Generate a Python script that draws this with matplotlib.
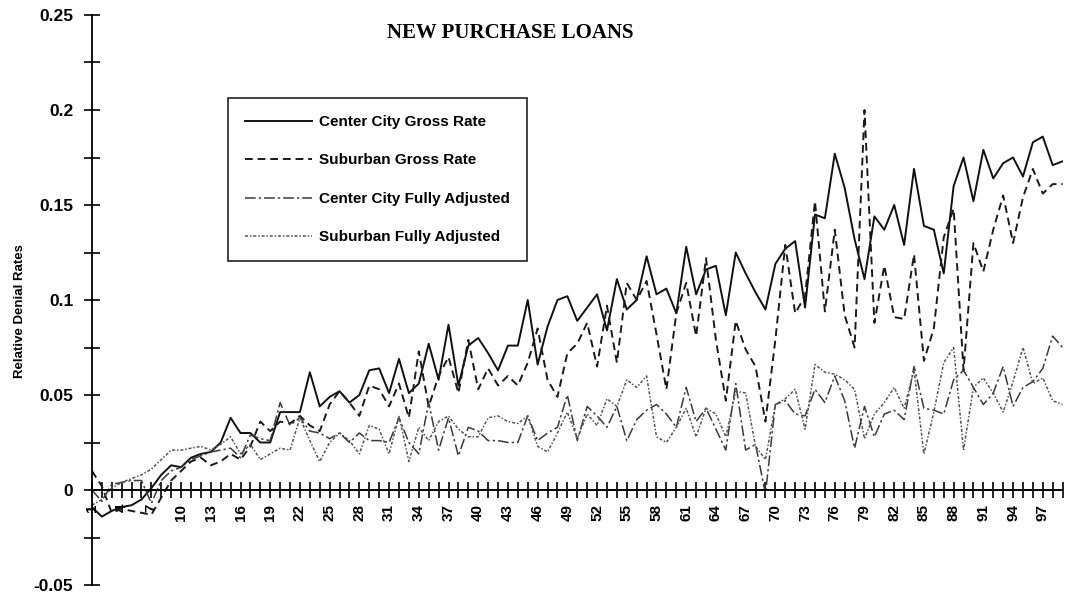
import matplotlib
matplotlib.use("Agg")
import matplotlib.pyplot as plt
from matplotlib.ticker import MultipleLocator

# observation index 1..99
obs = list(range(1, 100))

center_gross = [
    -0.009, -0.014, -0.011, -0.009, -0.008, -0.005, 0.001, 0.008, 0.013, 0.012,
    0.017, 0.019, 0.020, 0.025, 0.038, 0.030, 0.030, 0.025, 0.025, 0.041,
    0.041, 0.041, 0.062, 0.044, 0.049, 0.052, 0.046, 0.050, 0.063, 0.064,
    0.051, 0.069, 0.051, 0.056, 0.077, 0.058, 0.087, 0.055, 0.076, 0.080,
    0.072, 0.063, 0.076, 0.076, 0.100, 0.066, 0.086, 0.100, 0.102, 0.089,
    0.096, 0.103, 0.084, 0.111, 0.095, 0.100, 0.123, 0.103, 0.106, 0.093,
    0.128, 0.103, 0.116, 0.118, 0.092, 0.125, 0.114, 0.104, 0.095, 0.119,
    0.127, 0.131, 0.096, 0.145, 0.143, 0.177, 0.159, 0.132, 0.111, 0.144,
    0.137, 0.150, 0.129, 0.169, 0.139, 0.137, 0.114, 0.160, 0.175, 0.152,
    0.179, 0.164, 0.172, 0.175, 0.165, 0.183, 0.186, 0.171, 0.173,
]

suburban_gross = [
    0.010, 0.002, -0.012, -0.010, -0.011, -0.012, -0.013, -0.004, 0.005, 0.010,
    0.015, 0.017, 0.013, 0.015, 0.019, 0.016, 0.023, 0.036, 0.031, 0.036,
    0.035, 0.039, 0.034, 0.031, 0.045, 0.052, 0.046, 0.039, 0.055, 0.053,
    0.044, 0.056, 0.038, 0.073, 0.044, 0.060, 0.070, 0.051, 0.079, 0.053,
    0.064, 0.055, 0.060, 0.055, 0.067, 0.085, 0.058, 0.049, 0.072, 0.077,
    0.088, 0.065, 0.097, 0.067, 0.109, 0.100, 0.110, 0.082, 0.053, 0.093,
    0.109, 0.081, 0.122, 0.079, 0.047, 0.089, 0.074, 0.065, 0.036, 0.079,
    0.129, 0.093, 0.102, 0.152, 0.094, 0.137, 0.092, 0.075, 0.200, 0.088,
    0.118, 0.091, 0.090, 0.124, 0.068, 0.085, 0.133, 0.148, 0.063, 0.130,
    0.115, 0.137, 0.155, 0.130, 0.154, 0.169, 0.156, 0.161, 0.161,
]

center_adj = [
    0.000, -0.006, 0.003, 0.004, 0.005, 0.005, -0.007, 0.005, 0.010, 0.012,
    0.016, 0.018, 0.020, 0.021, 0.022, 0.017, 0.029, 0.027, 0.026, 0.046,
    0.034, 0.038, 0.031, 0.030, 0.027, 0.030, 0.025, 0.030, 0.026, 0.026,
    0.025, 0.038, 0.025, 0.019, 0.046, 0.021, 0.038, 0.018, 0.033, 0.031,
    0.026, 0.026, 0.025, 0.025, 0.039, 0.026, 0.030, 0.033, 0.050, 0.026,
    0.044, 0.039, 0.033, 0.044, 0.026, 0.037, 0.042, 0.045, 0.040, 0.033,
    0.054, 0.036, 0.043, 0.032, 0.021, 0.056, 0.021, 0.024, -0.002, 0.045,
    0.047, 0.040, 0.039, 0.053, 0.046, 0.060, 0.047, 0.022, 0.044, 0.028,
    0.040, 0.042, 0.037, 0.065, 0.043, 0.042, 0.040, 0.058, 0.063, 0.054,
    0.045, 0.051, 0.065, 0.044, 0.054, 0.057, 0.064, 0.081, 0.075,
]

suburban_adj = [
    -0.008, -0.005, 0.001, 0.004, 0.006, 0.008, 0.011, 0.016, 0.021, 0.021,
    0.022, 0.023, 0.021, 0.024, 0.028, 0.019, 0.024, 0.016, 0.019, 0.022,
    0.021, 0.038, 0.026, 0.015, 0.025, 0.030, 0.026, 0.019, 0.034, 0.032,
    0.019, 0.039, 0.015, 0.033, 0.026, 0.036, 0.039, 0.032, 0.028, 0.028,
    0.038, 0.039, 0.036, 0.035, 0.039, 0.023, 0.020, 0.030, 0.041, 0.027,
    0.040, 0.034, 0.048, 0.044, 0.058, 0.054, 0.060, 0.028, 0.025, 0.033,
    0.043, 0.028, 0.043, 0.040, 0.028, 0.052, 0.051, 0.023, 0.016, 0.045,
    0.048, 0.053, 0.032, 0.066, 0.062, 0.061, 0.058, 0.053, 0.027, 0.040,
    0.046, 0.054, 0.043, 0.063, 0.019, 0.041, 0.067, 0.075, 0.021, 0.054,
    0.059, 0.051, 0.041, 0.057, 0.075, 0.056, 0.059, 0.047, 0.045,
]

series_names = [
    "Center City Gross Rate",
    "Suburban Gross Rate",
    "Center City Fully Adjusted",
    "Suburban Fully Adjusted",
]

sans = ["Liberation Sans", "DejaVu Sans"]

fig = plt.figure(figsize=(10.69, 6.0), dpi=100)
ax = fig.add_axes([0.086, 0.025, 0.908, 0.95])

ax.plot(obs, center_gross, color="#111111", lw=1.4, ls="-", label=series_names[0])
ax.plot(obs, suburban_gross, color="#1a1a1a", lw=1.4, ls=(0, (4, 2.5)), label=series_names[1])
ax.plot(obs, center_adj, color="#3a3a3a", lw=1.1, ls=(0, (7, 2, 1.5, 2)), label=series_names[2])
ax.plot(obs, suburban_adj, color="#555555", lw=1.1, ls=(0, (2, 1.2, 1, 1.2)), label=series_names[3])

ax.set_xlim(1, 99)
ax.set_ylim(-0.05, 0.25)

# only a left axis and a horizontal axis through zero
for side in ["top", "right"]:
    ax.spines[side].set_visible(False)
ax.spines["bottom"].set_position(("data", 0))
ax.spines["bottom"].set_linewidth(1.4)
ax.spines["left"].set_linewidth(1.3)

ax.yaxis.set_minor_locator(MultipleLocator(0.025))
ax.set_yticks([-0.05, 0, 0.05, 0.1, 0.15, 0.2, 0.25])
ax.set_yticklabels(["-0.05", "0", "0.05", "0.1", "0.15", "0.2", "0.25"])
ax.tick_params(axis="y", which="both", direction="inout", length=11, width=1.2, pad=8)
for lbl in ax.get_yticklabels():
    lbl.set_fontfamily(sans)
    lbl.set_fontweight("bold")
    lbl.set_fontsize(12.5)

ax.set_xticks(obs)
ax.set_xticklabels([str(i) if (i - 1) % 3 == 0 else "" for i in obs], rotation=90)
ax.tick_params(axis="x", which="major", direction="inout", length=12, width=1.2, pad=4)
for lbl in ax.get_xticklabels():
    lbl.set_fontfamily(sans)
    lbl.set_fontweight("bold")
    lbl.set_fontsize(11)

ax.set_ylabel("Relative Denial Rates", fontsize=9.5, fontweight="bold", family=sans)
ax.yaxis.set_label_coords(-0.068, 0.48)

fig.text(0.477, 0.945, "NEW PURCHASE LOANS", ha="center", va="center",
         family=["Liberation Serif", "DejaVu Serif"], fontweight="bold", fontsize=15)

leg = ax.legend(loc="upper left", bbox_to_anchor=(0.140, 0.854), borderaxespad=0,
                frameon=True, fancybox=False, framealpha=1, edgecolor="#222222",
                handlelength=4.4, handletextpad=0.5, labelspacing=1.6,
                borderpad=1.1, prop={"family": sans, "weight": "bold", "size": 11})
leg.get_frame().set_linewidth(1.2)

fig.savefig("out.png", dpi=100)
